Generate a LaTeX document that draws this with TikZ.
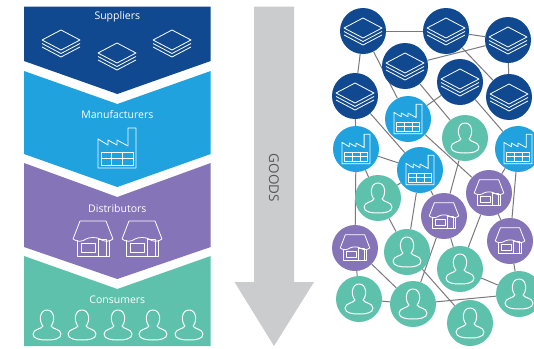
\documentclass[tikz,border=0pt]{standalone}
\usepackage{fontspec}
\setmainfont{Open Sans}
\usepackage{tikz}
\definecolor{navy}{HTML}{10498F}
\definecolor{sky}{HTML}{1FA2DE}
\definecolor{grape}{HTML}{8574B8}
\definecolor{mint}{HTML}{5EC1AB}
\definecolor{arrowgray}{HTML}{CBCCCE}
\definecolor{linkgray}{HTML}{7A787C}
\tikzstyle{hub} = [circle, minimum size=46pt, inner sep=0pt]
\tikzstyle{band} = [text=white, font=\fontsize{10.5}{12}\selectfont]
\tikzstyle{icon} = [draw=white, line width=0.8pt, line join=round]
\tikzstyle{link} = [draw=linkgray, line width=1pt]
\tikzset{
	stackicon/.pic={
		\draw[icon] (0,-13) -- (19,-3) -- (0,7) -- (-19,-3) -- cycle;
		\draw[icon] (-19,0.5) -- (0,10.5) -- (19,0.5);
		\draw[icon] (-19,4) -- (0,14) -- (19,4);
	},
	factoryicon/.pic={
		\draw[icon] (-19,20) -- (-19,-9) -- (-9,-3) -- (-9,-8) -- (0,-3) -- (0,-8) -- (11,-2) -- (11,-20) -- (19,-20) -- (19,20) -- cycle;
		\draw[icon] (-16,4) rectangle (16,17);
		\draw[icon] (-16,10.5) -- (16,10.5);
		\draw[icon] (-5.5,4) -- (-5.5,17);
		\draw[icon] (5.5,4) -- (5.5,17);
	},
	storeicon/.pic={
		\draw[icon] (-13,-18) -- (13,-18) -- (20,0) .. controls (16,3) and (11,3) .. (7,0) .. controls (3,-2) and (-3,-2) .. (-7,0) .. controls (-11,3) and (-16,3) .. (-20,0) -- cycle;
		\draw[icon] (-16,1) -- (-16,17) -- (16,17) -- (16,1);
		\draw[icon] (-12,4) rectangle (2,13);
		\draw[icon] (5,0) rectangle (13,17);
	},
	personicon/.pic={
		\draw[icon, line width=1pt] (-4,1) .. controls (-8,-3) and (-8,-15) .. (0,-15) .. controls (8,-15) and (8,-3) .. (4,1) .. controls (5,4) and (14,4) .. (14,9) .. controls (14,14) and (7,15) .. (0,15) .. controls (-7,15) and (-14,14) .. (-14,9) .. controls (-14,4) and (-5,4) .. (-4,1) -- cycle;
	}
}
\tikzstyle{small} = [scale=0.74]

\begin{document}
\begin{tikzpicture}[x=1pt, y=-1pt]
	\useasboundingbox (0,0) rectangle (534,348);

	% chain
	\fill[navy] (24,6.5) -- (210.7,6.5) -- (210.7,61) -- (117.3,94) -- (24,61) -- cycle;
	\fill[sky] (24,71) -- (117.3,104) -- (210.7,71) -- (210.7,154) -- (117.3,187) -- (24,154) -- cycle;
	\fill[grape] (24,163) -- (117.3,197) -- (210.7,163) -- (210.7,247) -- (117.3,279) -- (24,247) -- cycle;
	\fill[mint] (24,256) -- (117.3,289) -- (210.7,256) -- (210.7,346) -- (24,346) -- cycle;

	\node[band] (suppliers) at (117.3,17) {Suppliers};
	\node[band] (manufacturers) at (117.3,115) {Manufacturers};
	\node[band] (distributors) at (117.3,209) {Distributors};
	\node[band] (consumers) at (117.3,300) {Consumers};

	\pic at (61,43) {stackicon};
	\pic at (117,56) {stackicon};
	\pic at (172,43) {stackicon};
	\pic at (117,148) {factoryicon};
	\pic at (93,239) {storeicon};
	\pic at (142,239) {storeicon};
	\pic at (47,325) {personicon};
	\pic at (82,325) {personicon};
	\pic at (118,325) {personicon};
	\pic at (153,325) {personicon};
	\pic at (189,325) {personicon};

	% goods arrow
	\fill[arrowgray] (254,6.5) -- (294,6.5) -- (294,282) -- (314,282) -- (274,346) -- (234.5,282) -- (254,282) -- cycle;
	\node[rotate=-90, text=black!65, font=\fontsize{13.5}{15}\selectfont] (goods) at (274,178) {GOODS};

	% network
	\node[hub, fill=navy] (s1) at (363,31) {};
	\node[hub, fill=navy] (s2) at (446,31) {};
	\node[hub, fill=navy] (s3) at (508,40) {};
	\node[hub, fill=navy] (s4) at (405,66) {};
	\node[hub, fill=navy] (s5) at (460,82) {};
	\node[hub, fill=navy] (s6) at (355,96) {};
	\node[hub, fill=navy] (s7) at (509,97) {};
	\node[hub, fill=sky] (f1) at (408,119) {};
	\node[hub, fill=sky] (f2) at (356,149) {};
	\node[hub, fill=sky] (f3) at (518,149) {};
	\node[hub, fill=sky] (f4) at (420,170) {};
	\node[hub, fill=grape] (d1) at (444,216) {};
	\node[hub, fill=grape] (d2) at (489,193) {};
	\node[hub, fill=grape] (d3) at (355,248) {};
	\node[hub, fill=grape] (d4) at (510,241) {};
	\node[hub, fill=mint] (c1) at (465,138) {};
	\node[hub, fill=mint] (c2) at (378,198) {};
	\node[hub, fill=mint] (c3) at (407,252) {};
	\node[hub, fill=mint] (c4) at (460,269) {};
	\node[hub, fill=mint] (c5) at (359,299) {};
	\node[hub, fill=mint] (c6) at (413,304) {};
	\node[hub, fill=mint] (c7) at (519,294) {};
	\node[hub, fill=mint] (c8) at (470,323) {};

	\pic at (s1) {stackicon};
	\pic at (s2) {stackicon};
	\pic at (s3) {stackicon};
	\pic at (s4) {stackicon};
	\pic at (s5) {stackicon};
	\pic at (s6) {stackicon};
	\pic at (s7) {stackicon};
	\pic[small] at (f1) {factoryicon};
	\pic[small] at (f2) {factoryicon};
	\pic[small] at (f3) {factoryicon};
	\pic[small] at (f4) {factoryicon};
	\pic[small] at (d1) {storeicon};
	\pic[small] at (d2) {storeicon};
	\pic[small] at (d3) {storeicon};
	\pic[small] at (d4) {storeicon};
	\pic at (c1) {personicon};
	\pic at (c2) {personicon};
	\pic at (c3) {personicon};
	\pic at (c4) {personicon};
	\pic at (c5) {personicon};
	\pic at (c6) {personicon};
	\pic at (c7) {personicon};
	\pic at (c8) {personicon};

	\pgfdeclarelayer{background}
	\pgfsetlayers{background,main}

	\begin{pgfonlayer}{background}
		\draw[link] (s1) -- (s2);
		\draw[link] (s2) -- (s3);
		\draw[link] (s1) -- (s6);
		\draw[link] (s1) -- (f1);
		\draw[link] (s4) -- (s3);
		\draw[link] (s2) -- (s7);
		\draw[link] (s3) -- (s7);
		\draw[link] (s4) -- (c1);
		\draw[link] (s5) -- (f1);
		\draw[link] (s5) -- (f3);
		\draw[link] (s6) -- (f2);
		\draw[link] (s6) -- (f4);
		\draw[link] (f2) -- (f4);
		\draw[link] (f2) -- (d3);
		\draw[link] (f2) -- (c2);
		\draw[link] (f1) -- (d2);
		\draw[link] (c1) -- (d1);
		\draw[link] (f3) -- (d2);
		\draw[link] (f3) -- (d4);
		\draw[link] (f4) -- (d1);
		\draw[link] (f4) -- (c2);
		\draw[link] (f4) -- (c3);
		\draw[link] (c2) -- (c3);
		\draw[link] (d1) -- (c4);
		\draw[link] (d1) -- (c6);
		\draw[link] (d2) -- (c4);
		\draw[link] (d2) -- (d4);
		\draw[link] (d3) -- (c5);
		\draw[link] (d3) -- (c6);
		\draw[link] (c3) -- (c8);
		\draw[link] (c5) -- (c6);
		\draw[link] (c6) -- (c7);
		\draw[link] (c4) -- (c7);
		\draw[link] (d4) -- (c7);
	\end{pgfonlayer}
\end{tikzpicture}
\end{document}
